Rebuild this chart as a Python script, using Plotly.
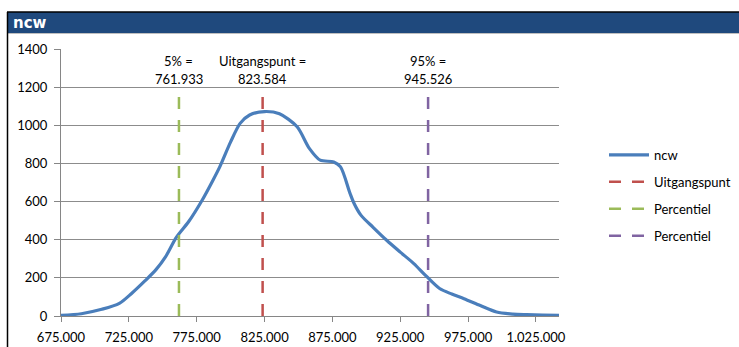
import plotly.graph_objects as go

# Distribution of ncw (in euro), smoothed curve
ncw_x = [675000, 690000, 705000, 718000, 727000, 737000, 745000, 752000, 760000,
         769000, 779000, 787000, 792000, 800000, 807000, 814000, 825000, 836000,
         849000, 858000, 866000, 876000, 881000, 888000, 891000, 896000, 905000,
         915000, 925000, 935000, 944000, 954000, 963000, 972000, 984000, 996000,
         1008000, 1018000, 1030000, 1042000]
ncw_y = [3, 12, 35, 66, 118, 185, 243, 310, 412,
         494, 607, 712, 782, 913, 1010, 1054, 1072, 1060,
         992, 879, 817, 808, 782, 643, 590, 529, 465,
         397, 335, 275, 210, 144, 115, 91, 55, 21,
         10, 7, 5, 4]

# Reference markers
p5 = 761933
base = 823584
p95 = 945526
marker_top = 1150

x_ticks = [675000, 725000, 775000, 825000, 875000, 925000, 975000, 1025000]
y_ticks = [0, 200, 400, 600, 800, 1000, 1200, 1400]

FONT = "Lato"
W, H = 739, 347
ML, MR, MT, MB = 61, 180, 49, 31
PW, PH = W - ML - MR, H - MT - MB


def px_x(p):
    return (p - ML) / PW


def px_y(p):
    return (H - MB - p) / PH


def nl(v):
    return f"{v:,}".replace(",", ".")


fig = go.Figure()
fig.add_trace(go.Scatter(
    x=ncw_x, y=ncw_y, mode="lines", name="ncw", legendgroup="a",
    line=dict(color="#4A7EBB", width=3.2, shape="spline", smoothing=0.8),
))
for val, name, col, grp in [(base, "Uitgangspunt", "#C0504D", "b"),
                            (p5, "Percentiel", "#9BBB59", "c"),
                            (p95, "Percentiel", "#8064A2", "d")]:
    fig.add_trace(go.Scatter(
        x=[val, val], y=[0, marker_top], mode="lines", name=name, legendgroup=grp,
        line=dict(color=col, width=2.5, dash="12px,11px"),
    ))

annots = []
for val, label in [(p5, "5% ="), (base, "Uitgangspunt ="), (p95, "95% =")]:
    annots.append(dict(x=val, y=1337, xref="x", yref="y", text=label, showarrow=False,
                       font=dict(family=FONT, size=13, color="#000000"),
                       xanchor="center", yanchor="middle"))
    annots.append(dict(x=val, y=1243, xref="x", yref="y", text=nl(val), showarrow=False,
                       font=dict(family=FONT, size=13, color="#000000"),
                       xanchor="center", yanchor="middle"))
annots.append(dict(x=px_x(11), y=px_y(22.5), xref="paper", yref="paper", text="<b>ncw</b>",
                   showarrow=False, xanchor="left", yanchor="middle",
                   font=dict(family="DejaVu Sans", size=15, color="#FFFFFF")))

shapes = [
    dict(type="rect", xref="paper", yref="paper", x0=px_x(7), x1=px_x(740),
         y0=px_y(33), y1=px_y(12), fillcolor="#1F497D", line=dict(width=0), layer="below"),
    dict(type="line", xref="paper", yref="paper", x0=px_x(7), x1=px_x(740),
         y0=px_y(12), y1=px_y(12), line=dict(color="#000000", width=1.5)),
    dict(type="line", xref="paper", yref="paper", x0=px_x(7), x1=px_x(740),
         y0=px_y(33.5), y1=px_y(33.5), line=dict(color="#BFBFBF", width=1)),
    dict(type="line", xref="paper", yref="paper", x0=px_x(7.5), x1=px_x(7.5),
         y0=px_y(12), y1=px_y(348), line=dict(color="#000000", width=1.5)),
]

fig.update_layout(
    width=W, height=H,
    margin=dict(l=ML, r=MR, t=MT, b=MB, pad=0, autoexpand=False),
    paper_bgcolor="#FFFFFF", plot_bgcolor="#FFFFFF",
    separators=",.",
    font=dict(family=FONT, size=13, color="#000000"),
    showlegend=True,
    legend=dict(x=px_x(604), y=px_y(140), xanchor="left", yanchor="top",
                font=dict(family=FONT, size=13, color="#000000"),
                itemwidth=40, tracegroupgap=7, bgcolor="rgba(0,0,0,0)"),
    xaxis=dict(range=[675000, 1042000], tickvals=x_ticks, tickformat=",d",
               showgrid=False, showline=True, linecolor="#868686", linewidth=1,
               ticks="outside", ticklen=5, tickcolor="#868686", zeroline=False,
               ticklabelstandoff=4, automargin=False,
               tickfont=dict(family=FONT, size=13, color="#000000")),
    yaxis=dict(range=[0, 1400], tickvals=y_ticks, tickformat="d",
               showgrid=True, gridcolor="#8C8C8C", gridwidth=1,
               showline=True, linecolor="#868686", linewidth=1,
               ticks="outside", ticklen=6, tickcolor="#868686", zeroline=False,
               ticklabelstandoff=4, automargin=False,
               tickfont=dict(family=FONT, size=13, color="#000000")),
    annotations=annots,
    shapes=shapes,
)

fig.write_html("out.html")
